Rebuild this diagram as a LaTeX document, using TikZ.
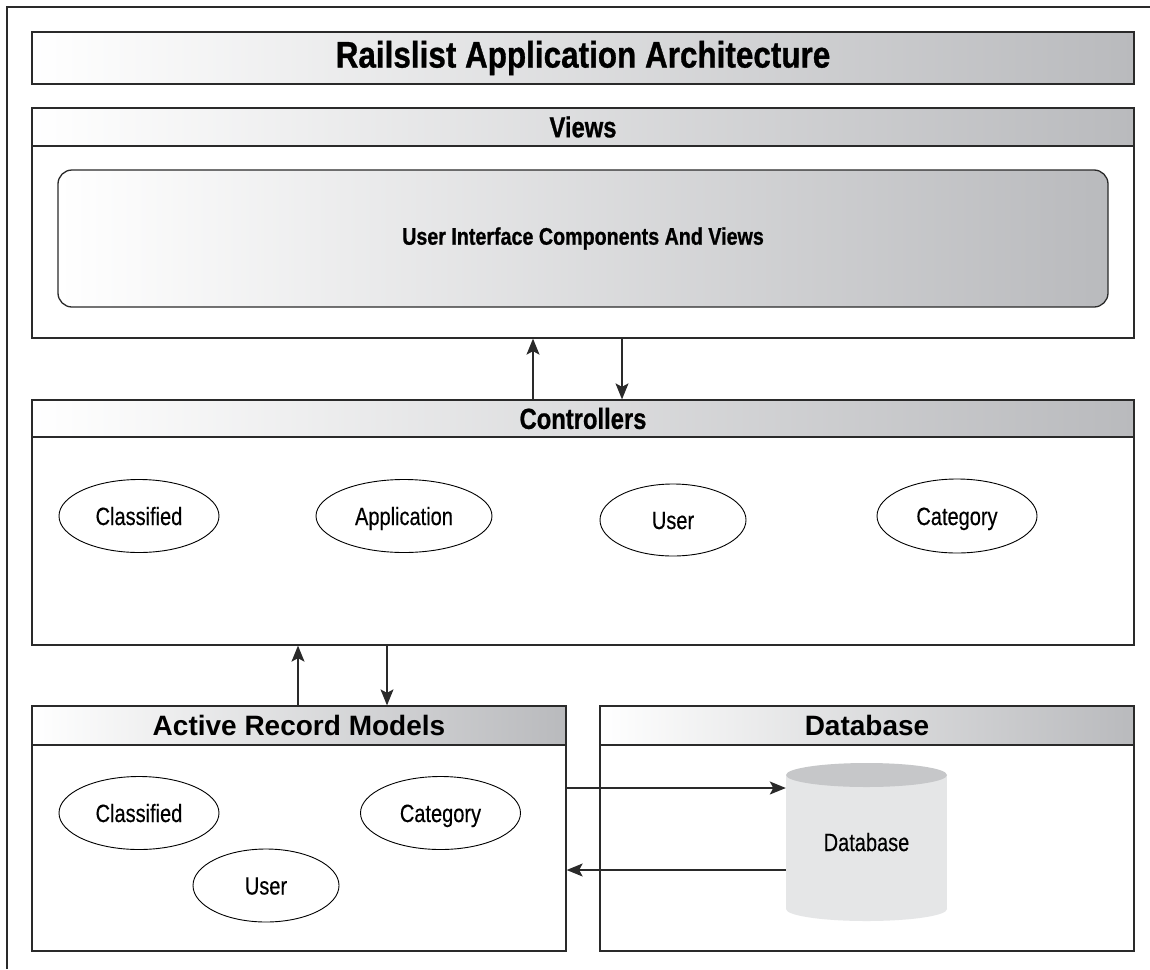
\documentclass[tikz,border=0pt]{standalone}
\usepackage{fontspec}
\setmainfont{Liberation Sans}
\newfontfamily\titlefont[FakeStretch=0.85, BoldFeatures={FakeBold=0.8}]{Liberation Sans}
\newfontfamily\condfont[FakeStretch=0.82, BoldFeatures={FakeBold=0.8}]{Liberation Sans}
\newfontfamily\lblfont[FakeStretch=0.8, FakeBold=0.3]{Liberation Sans}
\usetikzlibrary{shapes.geometric,arrows.meta}
\definecolor{ink}{HTML}{2A2A2A}
\definecolor{barend}{HTML}{B9BABD}
\definecolor{cylbody}{HTML}{E5E6E7}
\definecolor{cyltop}{HTML}{C6C7C9}
\begin{document}
\begin{tikzpicture}[x=1pt,y=-1pt,
  frame/.style={draw=ink, line width=1.3pt},
  panel/.style={rectangle, draw=ink, line width=1.3pt, fill=white, inner sep=0pt},
  bar/.style={rectangle, draw=ink, line width=1.3pt, left color=white, right color=barend, inner sep=0pt},
  condhead/.style={font=\condfont\bfseries\fontsize{29}{32}\selectfont},
  widehead/.style={font=\bfseries\fontsize{28}{31}\selectfont},
  comp/.style={ellipse, draw=black, line width=0.9pt, fill=white, inner sep=0pt,
    text height=18pt, text depth=0pt,
    font=\lblfont\fontsize{25}{28}\selectfont},
  arr/.style={draw=ink, line width=1.3pt, -{Stealth[length=16pt,width=13pt,inset=3.5pt]}}
]
\useasboundingbox (0,0) rectangle (1150,969);
\fill[white] (0,0) rectangle (1150,969);

% outer frame (top and left edges)
\draw[frame] (7,969) -- (7,7) -- (1150,7);

% title bar
\node[bar, minimum width=1102pt, minimum height=52pt,
  font=\titlefont\bfseries\fontsize{37}{42}\selectfont] (title) at (583,58)
  {Railslist Application Architecture};

% views layer
\node[panel, minimum width=1102pt, minimum height=230pt] (views) at (583,223) {};
\node[bar, condhead, minimum width=1102pt, minimum height=38pt] (vhdr) at (583,127) {Views};
\node[rectangle, draw=ink, line width=1.3pt, rounded corners=14pt,
  left color=white, right color=barend,
  minimum width=1050pt, minimum height=137pt, inner sep=0pt,
  font=\condfont\bfseries\fontsize{24}{28}\selectfont] (ui) at (583,238.5)
  {User Interface Components And Views};

% controllers layer
\node[panel, minimum width=1102pt, minimum height=245pt] (ctrl) at (583,522.5) {};
\node[bar, condhead, minimum width=1102pt, minimum height=37pt] (chdr) at (583,418.5) {Controllers};
\node[comp, minimum width=160pt, minimum height=73pt] (cclass) at (139,516) {Classified};
\node[comp, minimum width=176pt, minimum height=73pt] (capp) at (404,516) {Application};
\node[comp, minimum width=146pt, minimum height=72pt] (cuser) at (673,520) {User};
\node[comp, minimum width=160pt, minimum height=74pt] (ccat) at (957,516) {Category};

% models layer
\node[panel, minimum width=534pt, minimum height=245pt] (arm) at (299,828.5) {};
\node[bar, widehead, minimum width=534pt, minimum height=39pt] (armhdr) at (299,725.5) {Active Record Models};
\node[comp, minimum width=160pt, minimum height=73pt] (mclass) at (139,813) {Classified};
\node[comp, minimum width=160pt, minimum height=73pt] (mcat) at (440.5,813) {Category};
\node[comp, minimum width=146pt, minimum height=73pt] (muser) at (266,885.5) {User};

% database layer
\node[panel, minimum width=534pt, minimum height=245pt] (dbp) at (867,828.5) {};
\node[bar, widehead, minimum width=534pt, minimum height=39pt] (dbhdr) at (867,725.5) {Database};

% database cylinder
\fill[cylbody] (786,775) rectangle (947,909);
\fill[cylbody] (866.5,909) ellipse [x radius=80.5, y radius=12];
\fill[cyltop] (866.5,775) ellipse [x radius=80.5, y radius=12];
\node[rectangle, inner sep=0pt, minimum width=161pt, minimum height=158pt,
  text height=18pt, text depth=0pt,
  font=\lblfont\fontsize{25}{28}\selectfont] (db) at (866.5,842) {Database};

% connector columns and rows
\coordinate (c1) at (533,0);
\coordinate (c2) at (622,0);
\coordinate (c3) at (298,0);
\coordinate (c4) at (387,0);
\coordinate (r1) at (0,788);
\coordinate (r2) at (0,870);

% controllers <-> views
\draw[arr] (chdr.north -| c1) -- (views.south -| c1);
\draw[arr] (views.south -| c2) -- (chdr.north -| c2);
% models <-> controllers
\draw[arr] (armhdr.north -| c3) -- (ctrl.south -| c3);
\draw[arr] (ctrl.south -| c4) -- (armhdr.north -| c4);
% models <-> database
\draw[arr] (arm.east |- r1) -- (db.west |- r1);
\draw[arr] (db.west |- r2) -- (arm.east |- r2);
\end{tikzpicture}
\end{document}
